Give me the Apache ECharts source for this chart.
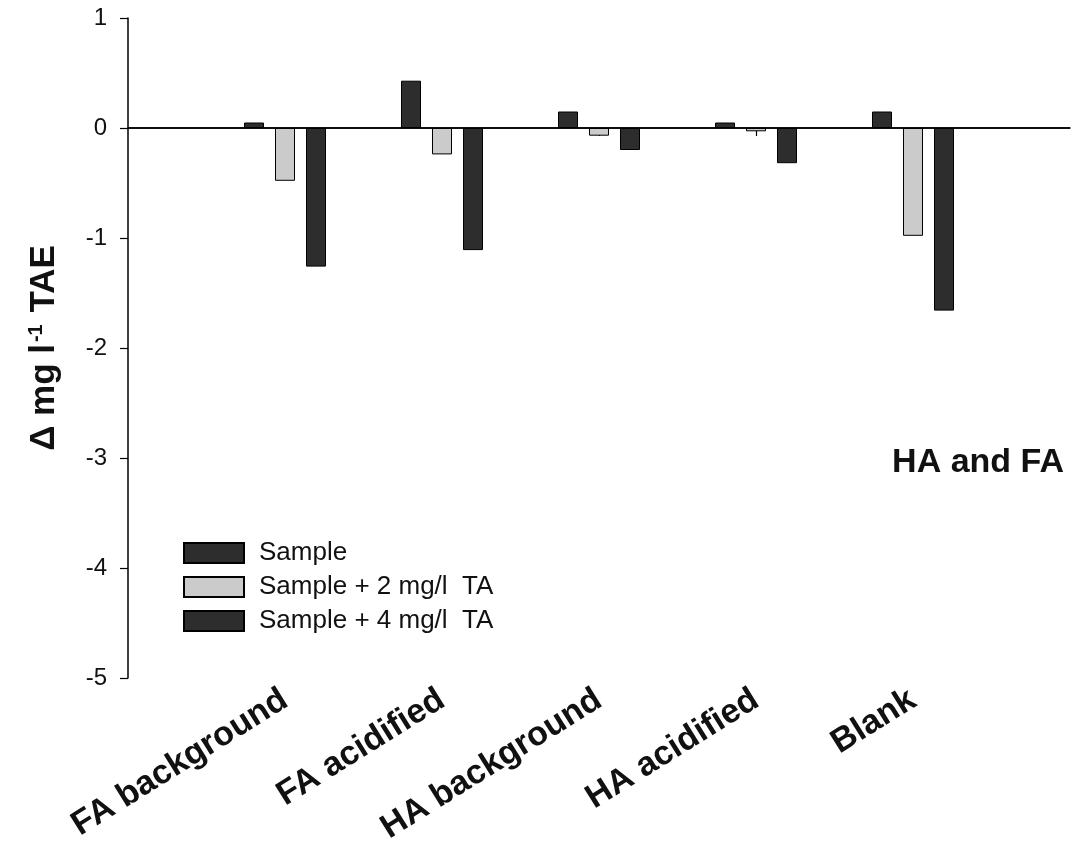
<!DOCTYPE html>
<html>
<head>
<meta charset="utf-8">
<script src="https://cdn.jsdelivr.net/npm/echarts@6/dist/echarts.min.js"></script>
<style>
html,body{margin:0;padding:0;background:#fff;}
#chart{width:1077px;height:853px;}
</style>
</head>
<body>
<div id="chart"></div>
<script>
const categories = ['FA background', 'FA acidified', 'HA background', 'HA acidified', 'Blank'];
const sample = [0.05, 0.43, 0.15, 0.05, 0.15];
const sample2 = [-0.48, -0.24, -0.07, -0.03, -0.98];
const sample4 = [-1.26, -1.11, -0.20, -0.32, -1.66];
const seriesNames = ['Sample', 'Sample + 2 mg/l  TA', 'Sample + 4 mg/l  TA'];
const yTicks = [1, 0, -1, -2, -3, -4, -5];

const pad = arr => [null].concat(arr, [null]);
const cats = [''].concat(categories, ['']);
const font = '"Liberation Sans", Arial, sans-serif';

const chart = echarts.init(document.getElementById('chart'), null, {renderer: 'canvas'});
const barStyle = (color) => ({color: color, borderColor: '#000', borderWidth: 1});
chart.setOption({
  animation: false,
  backgroundColor: '#fff',
  grid: {left: 128, right: 7, top: 18, bottom: 175, containLabel: false},
  xAxis: {
    type: 'category',
    data: cats,
    boundaryGap: false,
    axisLine: {lineStyle: {color: '#000', width: 1.5}},
    axisTick: {show: true, length: 8, lineStyle: {color: '#000', width: 1.2},
      interval: (i) => i > 0 && i < cats.length - 1},
    axisLabel: {
      interval: (i) => i > 0 && i < cats.length - 1,
      rotate: 32, margin: 19, color: '#111',
      fontFamily: font, fontWeight: 'bold', fontSize: 34
    },
    splitLine: {show: false}
  },
  yAxis: {
    type: 'value', min: yTicks[yTicks.length - 1], max: yTicks[0], interval: 1,
    axisLine: {show: true, lineStyle: {color: '#000', width: 1.5}},
    axisTick: {show: true, length: 8, lineStyle: {color: '#000', width: 1.2}},
    axisLabel: {color: '#111', fontFamily: font, fontSize: 24, margin: 21},
    splitLine: {show: false},
    name: '{a|Δ mg l}{s|-1}{a| TAE}',
    nameLocation: 'middle', nameRotate: 90, nameGap: 66,
    nameTextStyle: {
      rich: {
        a: {fontFamily: font, fontWeight: 'bold', fontSize: 35, color: '#111'},
        s: {fontFamily: font, fontWeight: 'bold', fontSize: 20, color: '#111', verticalAlign: 'top', padding: [0, 2, 16, 2]}
      }
    }
  },
  legend: {
    orient: 'vertical', left: 178, top: 535, itemWidth: 60, itemHeight: 20, itemGap: 8,
    icon: 'rect',
    textStyle: {fontFamily: font, fontSize: 26, color: '#111', padding: [0, 0, 0, 10]},
    data: seriesNames
  },
  series: [
    {name: seriesNames[0], type: 'bar', data: pad(sample), barWidth: 20, barGap: '55%', itemStyle: barStyle('#2d2d2d'),
     markLine: {silent: true, symbol: 'none', label: {show: false}, lineStyle: {color: '#000', width: 1.5, type: 'solid'}, data: [{yAxis: 0}]}},
    {name: seriesNames[1], type: 'bar', data: pad(sample2), barWidth: 20, barGap: '55%', itemStyle: barStyle('#cbcbcb')},
    {name: seriesNames[2], type: 'bar', data: pad(sample4), barWidth: 20, barGap: '55%', itemStyle: barStyle('#2d2d2d')}
  ],
  graphic: [
    {type: 'text', right: 13, top: 446, style: {text: 'HA and FA', fontFamily: font, fontWeight: 'bold', fontSize: 34, fill: '#111'}}
  ]
});
</script>
</body>
</html>
